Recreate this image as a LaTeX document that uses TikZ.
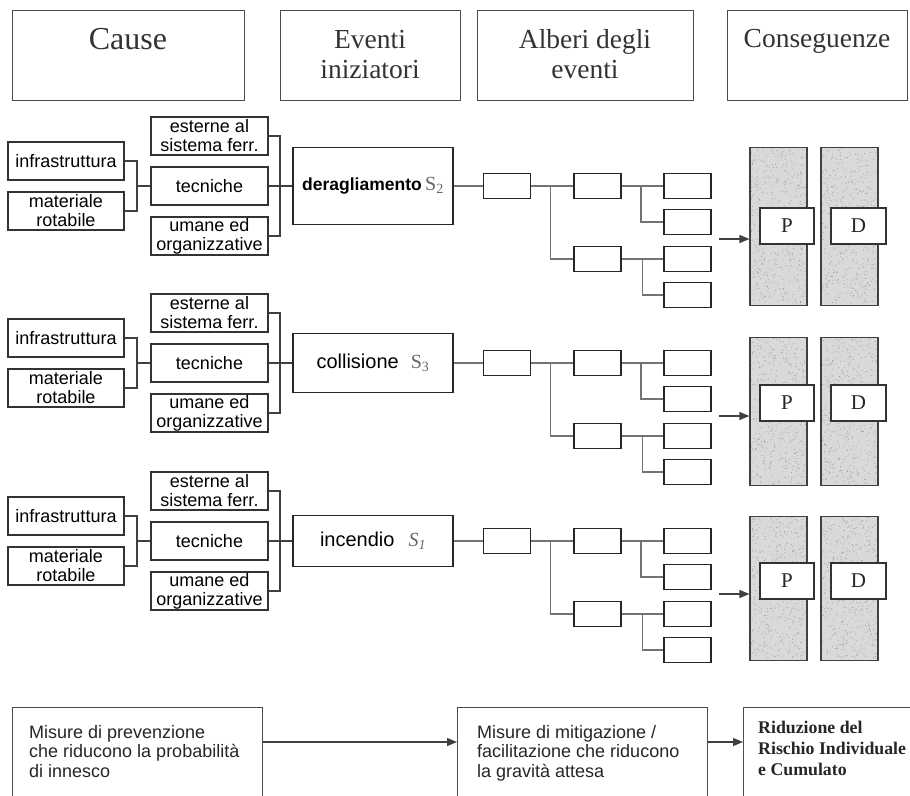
\documentclass[tikz,border=0pt]{standalone}
\usepackage{fontspec}
\setmainfont{Liberation Serif}
\setsansfont{Liberation Sans}
\usetikzlibrary{arrows.meta,calc}

\tikzset{
  hdr/.style={draw=black!70, line width=1.2pt, anchor=north west, inner sep=0pt},
  htext/.style={font=\rmfamily\fontsize{27.5}{30}\selectfont, text=black!80, align=center, anchor=north, inner sep=0pt},
  cbox/.style={draw=black!80, line width=1.3pt, minimum width=116, minimum height=38, inner sep=0pt,
    align=center, font=\sffamily\fontsize{18}{19}\selectfont, text=black},
  mbox/.style={cbox, minimum width=117},
  evbox/.style={draw=black!85, line width=1.6pt, minimum width=160, inner sep=0pt,
    font=\sffamily\fontsize{20}{22}\selectfont, text=black},
  tbox/.style={draw=black!85, line width=1.7pt, minimum width=47, minimum height=25, inner sep=0pt},
  tline/.style={draw=black!55, line width=1.3pt},
  brk/.style={draw=black!75, line width=1.4pt},
  col/.style={draw=black!75, line width=1.2pt, fill=black!15, minimum width=57, inner sep=0pt, anchor=north},
  speck/.style={fill=black!42},
  pd/.style={draw=black!80, line width=1.1pt, fill=white, minimum width=54, minimum height=36, inner sep=0pt,
    font=\rmfamily\fontsize{21}{21}\selectfont, text=black!85},
  parrow/.style={draw=black!75, line width=1.2pt, -{Triangle[length=10pt,width=8pt]}},
  bbox/.style={draw=black!70, line width=1.3pt, anchor=north west, minimum height=100, inner sep=0pt},
  btext/.style={font=\sffamily\fontsize{18}{19.5}\selectfont, text=black!85, align=left, anchor=north west, inner sep=0pt},
  rtext/.style={font=\rmfamily\bfseries\fontsize{17.8}{21}\selectfont, text=black!85, align=left, anchor=north west, inner sep=0pt}
}

% one row: causes, initiating event, event tree and consequence columns
% #1 tag, #2 centre line y, #3 event box height, #4 event label, #5 column top, #6 column height
\newcommand\railblock[6]{%
  \node[cbox] (inf#1) at (66,#2-25) {infrastruttura};
  \node[cbox] (mat#1) at (66,#2+25) {materiale\\rotabile};
  \node[mbox] (est#1) at (209.5,#2-50) {esterne al\\sistema ferr.};
  \node[mbox] (tec#1) at (209.5,#2) {tecniche};
  \node[mbox] (uma#1) at (209.5,#2+50) {umane ed\\organizzative};
  \node[evbox, minimum height=#3] (ev#1) at (373,#2) {#4};
  \coordinate (lb#1) at (137,#2);
  \coordinate (rb#1) at (280,#2);
  \draw[brk] (inf#1.east) -| (lb#1) |- (mat#1.east);
  \draw[brk] (lb#1) -- (tec#1.west);
  \draw[brk] (est#1.east) -| (rb#1) |- (uma#1.east);
  \draw[brk] (tec#1.east) -- (ev#1.west);
  % event tree
  \node[tbox] (ta#1) at (507,#2) {};
  \node[tbox] (tb#1) at (597.5,#2) {};
  \node[tbox] (tc#1) at (597.5,#2+73) {};
  \node[tbox] (td#1) at (687.5,#2) {};
  \node[tbox] (te#1) at (687.5,#2+36) {};
  \node[tbox] (tf#1) at (687.5,#2+73) {};
  \node[tbox] (tg#1) at (687.5,#2+109) {};
  \draw[tline] (ev#1.east) -- (ta#1.west);
  \draw[tline] (ta#1.east) -- (tb#1.west);
  \draw[tline] (tc#1.west) -| ($(ta#1.east)!0.46!(tb#1.west)$);
  \draw[tline] (tb#1.east) -- (td#1.west);
  \draw[tline] (te#1.west) -| ($(tb#1.east)!0.46!(td#1.west)$);
  \draw[tline] (tc#1.east) -- (tf#1.west);
  \draw[tline] (tg#1.west) -| ($(tc#1.east)!0.5!(tf#1.west)$);
  % consequence columns with a stippled fill
  \node[col, minimum height=#6] (cp#1) at (778.5,#5) {};
  \node[col, minimum height=#6] (cd#1) at (849.5,#5) {};
  \foreach \i in {1,...,520} {
    \fill[speck] ({751+55*rnd},{#5+1+(#6-2)*rnd}) circle (0.45);
    \fill[speck] ({822+55*rnd},{#5+1+(#6-2)*rnd}) circle (0.45);
  }
  \node[pd] (p#1) at (787,#2+40) {P};
  \node[pd, minimum width=55] (d#1) at (858.5,#2+40) {D};
  \coordinate (as#1) at (719,#2+53);
  \draw[parrow] (as#1) -- (as#1 -| cp#1.west);
}

\begin{document}
\begin{tikzpicture}[x=1pt,y=-1pt]
  \fill[white] (0,0) rectangle (910,795);
  \clip (0,0) rectangle (910,795);
  \pgfmathsetseed{4711}

  % column headings
  \node[hdr, minimum width=232, minimum height=90] (hc) at (12,10) {};
  \node[hdr, minimum width=180, minimum height=90] (he) at (280,10) {};
  \node[hdr, minimum width=216, minimum height=90] (ha) at (477,10) {};
  \node[hdr, minimum width=180, minimum height=90] (hq) at (727,10) {};
  \node[htext, font=\rmfamily\fontsize{32}{34}\selectfont] (hct) at (128,28) {Cause};
  \node[htext] (het) at (370,30) {Eventi\\iniziatori};
  \node[htext] (hat) at (585,29.5) {Alberi degli\\eventi};
  \node[htext] (hqt) at (817,29.5) {Conseguenze};

  \railblock{1}{186}{77}{{\sffamily\bfseries\fontsize{17.5}{19}\selectfont deragliamento}\,{\rmfamily\color{black!60}S\textsubscript{2}}}{147}{158}
  \railblock{2}{363}{59}{collisione\hspace{12pt}{\rmfamily\color{black!60}S\textsubscript{3}}}{337}{148}
  \railblock{3}{541}{51}{incendio\hspace{14pt}{\rmfamily\itshape\color{black!60}S\textsubscript{1}}}{516}{144}

  % measures
  \node[bbox, minimum width=250] (m1) at (12,707) {};
  \node[bbox, minimum width=250] (m2) at (457,707) {};
  \node[bbox, minimum width=185] (m3) at (743,707) {};
  \node[btext] (m1t) at (29,725) {Misure di prevenzione\\che riducono la probabilità\\di innesco};
  \node[btext] (m2t) at (477,725) {Misure di mitigazione /\\facilitazione che riducono\\la gravità attesa};
  \node[rtext] (m3t) at (758,721) {Riduzione del\\Rischio Individuale\\e Cumulato};
  \coordinate (lvl) at (0,742);
  \draw[parrow] (m1.east |- lvl) -- (m2.west |- lvl);
  \draw[parrow] (m2.east |- lvl) -- (m3.west |- lvl);
\end{tikzpicture}
\end{document}
